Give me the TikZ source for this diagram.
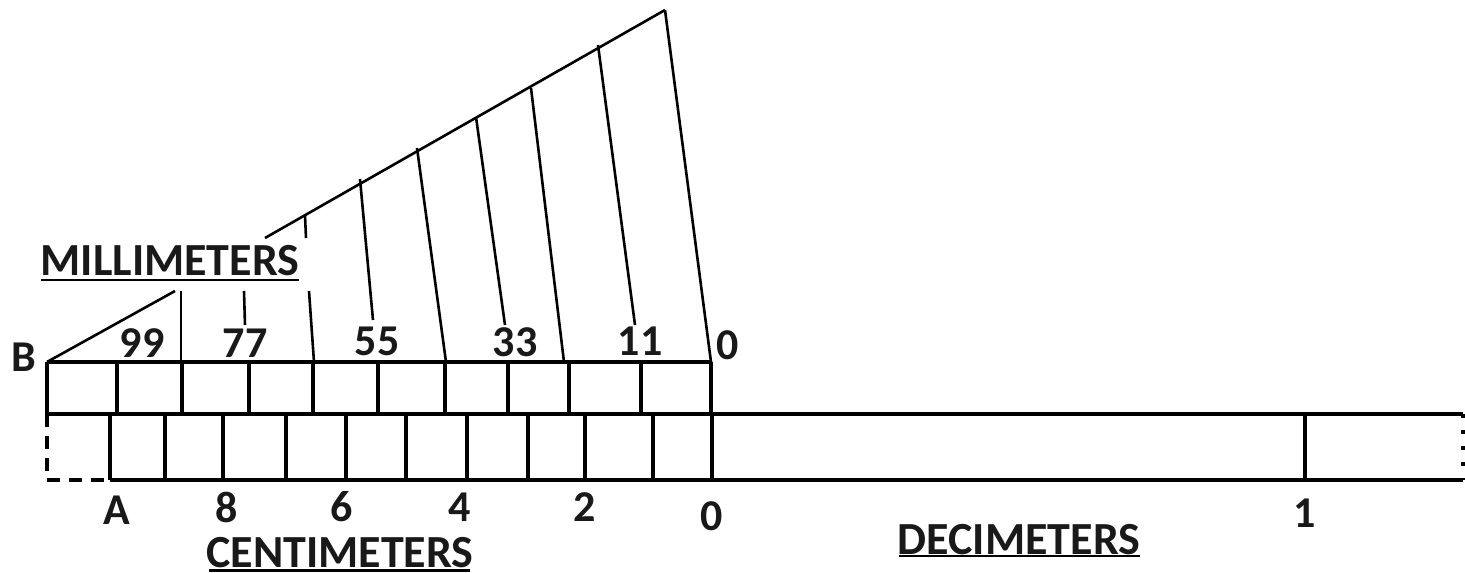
\documentclass[tikz,border=0pt]{standalone}
\usepackage{fontspec}
\setmainfont{Carlito}
\tikzset{
  thick line/.style={line width=4.2pt,black},
  fan line/.style={line width=2.6pt,black},
  label text/.style={font=\fontsize{44}{44}\selectfont\bfseries,inner sep=0pt,text=black!90},
  title text/.style={font=\fontsize{46}{46}\selectfont\bfseries,inner sep=0pt,text=black!90},
  under line/.style={line width=2.8pt,black},
  dash part/.style={line width=4.2pt,black,dash pattern=on 13pt off 9pt},
  dot part/.style={line width=4.2pt,black,dash pattern=on 4pt off 12pt}
}
\begin{document}
\begin{tikzpicture}[x=1pt,y=-1pt]
\useasboundingbox (0,0) rectangle (1465,573);
% frame corners
\coordinate (B) at (47,362);
\coordinate (Z) at (711,362);
\coordinate (ML) at (47,414);
\coordinate (MR) at (1463,414);
\coordinate (BL) at (47,480);
\coordinate (BA) at (110,480);
\coordinate (BR) at (1463,480);
\coordinate (Apex) at (665,10);
% upper row
\draw[thick line] (B) -- (Z);
\draw[thick line] (ML) -- (MR);
\draw[thick line] (BA) -- (BR);
\foreach \n/\x in {a/47,b/117,c/182,d/249,e/313,f/378,g/445,h/508,i/569,j/641,k/711}{
  \coordinate (u\n) at (\x,362);
  \coordinate (v\n) at (\x,414);
  \draw[thick line] (u\n) -- (v\n);
}
% lower row
\foreach \n/\x in {a/110,b/165,c/223,d/286,e/346,f/406,g/467,h/528,i/585,j/653,k/712,l/1305}{
  \coordinate (p\n) at (\x,414);
  \coordinate (q\n) at (\x,480);
  \draw[thick line] (p\n) -- (q\n);
}
\draw[dash part] (ML) -- (BL) -- (BA);
\draw[dot part] (MR) -- (BR);
% fan
\coordinate (F1) at (265,238);
\coordinate (F2) at (175,291);
\draw[fan line] (Apex) -- (F1);
\draw[fan line] (F2) -- (B);
\foreach \ax/\ay/\bx/\by in {665/10/711/362,598/45/635/325,531/88/564/362,476/117/505/325,417/148/446/362,360/179/373/320,305/215/306/238,309/291/314/362,244/291/245/325,181/291/181/362}{
  \coordinate (s) at (\ax,\ay);
  \coordinate (t) at (\bx,\by);
  \draw[fan line] (s) -- (t);
}
% labels
\node[label text] (lB) at (24,357) {B};
\node[label text] (l99) at (142,343) {99};
\node[label text] (l77) at (245,343) {77};
\node[label text] (l55) at (377,341) {55};
\node[label text] (l33) at (515,342) {33};
\node[label text] (l11) at (640,341) {11};
\node[label text] (l0t) at (728,345) {0};
\node[label text] (lA) at (117,510) {A};
\node[label text] (l8) at (227,507) {8};
\node[label text] (l6) at (342,507) {6};
\node[label text] (l4) at (460,507) {4};
\node[label text] (l2) at (585,507) {2};
\node[label text] (l0b) at (712,516) {0};
\node[label text] (l1) at (1305,513) {1};
\node[title text] (mm) at (170,261) {MILLIMETERS};
\node[title text] (cm) at (340,553) {CENTIMETERS};
\node[title text] (dm) at (1019,540) {DECIMETERS};
\coordinate (m1) at (41,280); \coordinate (m2) at (299,280);
\coordinate (c1) at (209,570.5); \coordinate (c2) at (470,570.5);
\coordinate (d1) at (899,556); \coordinate (d2) at (1140,556);
\draw[under line] (m1) -- (m2);
\draw[under line] (c1) -- (c2);
\draw[under line] (d1) -- (d2);
\end{tikzpicture}
\end{document}
